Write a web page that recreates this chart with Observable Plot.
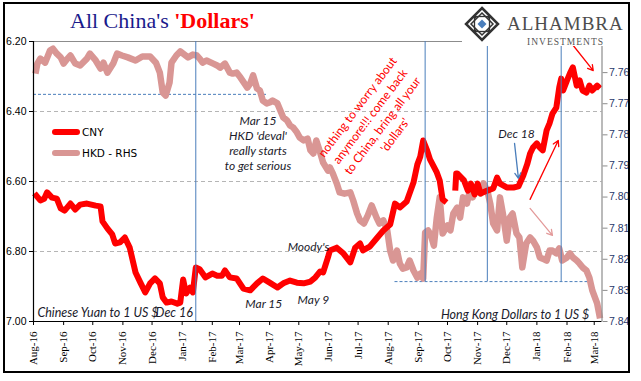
<!DOCTYPE html>
<html>
<head>
<meta charset="utf-8">
<script src="https://cdn.jsdelivr.net/npm/d3@7"></script>
<script src="https://cdn.jsdelivr.net/npm/@observablehq/plot@0.6"></script>
<style>
  html, body { margin: 0; padding: 0; background: #fff; }
  #wrap { position: relative; width: 641px; height: 381px; overflow: hidden; background: #fff; }
  #plot { position: absolute; left: 0; top: 0; }
  #overlay { position: absolute; left: 0; top: 0; pointer-events: none; }
  .leg { position: absolute; font-family: "DejaVu Sans", sans-serif; font-size: 10.5px; color: #000; display: flex; align-items: center; }
  .leg span.sw { display: inline-block; width: 28px; height: 6px; border-radius: 3px; margin-right: 2px; }
</style>
</head>
<body>
<div id="wrap">
  <div id="plot"></div>
  <div class="leg" style="left:52px; top:126px;"><span class="sw" style="background:#ff0000"></span>CNY</div>
  <div class="leg" style="left:52px; top:147px;"><span class="sw" style="background:#d99694"></span>HKD - RHS</div>
  <svg id="overlay" width="641" height="381">
    <rect x="462" y="4" width="166" height="42" fill="#fff"></rect>
    <g transform="translate(482,24)">
      <polygon points="0,-16 16,0 0,16 -16,0" fill="#fff" stroke="#333" stroke-width="2.5"></polygon>
      <polygon points="0,-11 11,0 0,11 -11,0" fill="none" stroke="#333" stroke-width="1.5"></polygon>
      <rect x="-7.5" y="-7.5" width="15" height="15" fill="none" stroke="#333" stroke-width="1.3"></rect>
      <polygon points="-8,-8 -4,-8 -8,-4" fill="#333"></polygon>
      <polygon points="8,-8 4,-8 8,-4" fill="#333"></polygon>
      <polygon points="-8,8 -4,8 -8,4" fill="#333"></polygon>
      <polygon points="8,8 4,8 8,4" fill="#333"></polygon>
      <polygon points="0,-4.5 4.5,0 0,4.5 -4.5,0" fill="#4a7ebb"></polygon>
    </g>
    <text x="507" y="30" font-family="Liberation Serif, serif" font-size="19" letter-spacing="1" fill="#4d4d4d">ALHAMBRA</text>
    <text x="527" y="45" font-family="Liberation Serif, serif" font-size="9.5" letter-spacing="1" fill="#555">INVESTMENTS</text>
    <text x="70" y="28" font-family="Liberation Serif, serif" font-size="22"><tspan fill="#1a1a8c">All China's </tspan><tspan fill="#ff0000" font-weight="bold">'Dollars'</tspan></text>
    <rect x="4" y="3" width="625" height="369" fill="none" stroke="#000" stroke-width="2"></rect>
  </svg>
</div>
<script>
// ---------- data ----------
const cnyDates = ["2016-08-02","2016-08-08","2016-08-12","2016-08-15","2016-08-20","2016-08-25","2016-08-29","2016-09-02","2016-09-08","2016-09-13","2016-09-18","2016-09-25","2016-10-04","2016-10-09","2016-10-11","2016-10-16","2016-10-21","2016-10-24","2016-10-29","2016-11-03","2016-11-08","2016-11-14","2016-11-19","2016-11-24","2016-11-29","2016-12-04","2016-12-09","2016-12-12","2016-12-16","2016-12-21","2016-12-27","2016-12-30","2017-01-02","2017-01-05","2017-01-09","2017-01-12","2017-01-15","2017-01-19","2017-01-25","2017-02-01","2017-02-06","2017-02-11","2017-02-14","2017-02-19","2017-02-26","2017-03-05","2017-03-12","2017-03-19","2017-03-25","2017-04-01","2017-04-09","2017-04-15","2017-04-22","2017-04-29","2017-05-06","2017-05-13","2017-05-18","2017-05-23","2017-05-26","2017-05-31","2017-06-02","2017-06-09","2017-06-16","2017-06-23","2017-06-28","2017-07-03","2017-07-06","2017-07-13","2017-07-20","2017-07-27","2017-08-03","2017-08-08","2017-08-13","2017-08-20","2017-08-27","2017-08-31","2017-09-03","2017-09-06","2017-09-10","2017-09-13","2017-09-20","2017-09-23","2017-09-26","2017-09-30","2017-10-04","2017-10-09","2017-10-10","2017-10-11","2017-10-18","2017-10-22","2017-10-25","2017-10-29","2017-11-01","2017-11-04","2017-11-11","2017-11-17","2017-11-21","2017-11-24","2017-12-01","2017-12-08","2017-12-13","2017-12-18","2017-12-22","2017-12-25","2017-12-28","2018-01-01","2018-01-04","2018-01-07","2018-01-11","2018-01-14","2018-01-17","2018-01-21","2018-01-24","2018-01-26","2018-01-28","2018-02-01","2018-02-04","2018-02-07","2018-02-11","2018-02-14","2018-02-17","2018-02-21","2018-02-24","2018-02-27","2018-03-04","2018-03-07"];
const cnyValues = [6.634,6.654,6.649,6.631,6.646,6.649,6.677,6.683,6.663,6.680,6.666,6.663,6.669,6.671,6.714,6.734,6.751,6.777,6.774,6.760,6.789,6.860,6.889,6.917,6.891,6.877,6.891,6.931,6.946,6.943,6.949,6.946,6.880,6.920,6.903,6.917,6.846,6.851,6.874,6.863,6.869,6.869,6.854,6.874,6.877,6.906,6.911,6.891,6.877,6.889,6.903,6.891,6.883,6.889,6.891,6.886,6.874,6.857,6.860,6.817,6.797,6.789,6.806,6.831,6.789,6.777,6.797,6.786,6.763,6.740,6.723,6.663,6.674,6.657,6.603,6.551,6.529,6.483,6.511,6.537,6.574,6.597,6.651,6.660,null,6.626,6.577,6.577,6.597,6.626,6.606,6.637,6.606,6.634,6.626,6.620,6.589,6.606,6.617,6.617,6.614,6.583,6.551,6.520,6.503,6.491,6.503,6.511,6.454,6.434,6.406,6.389,6.331,6.306,6.340,6.311,6.291,6.274,6.326,6.311,6.340,6.346,6.326,6.340,6.326,6.334];

const hkdDates = ["2016-08-03","2016-08-05","2016-08-08","2016-08-13","2016-08-18","2016-08-21","2016-08-25","2016-08-29","2016-09-01","2016-09-05","2016-09-08","2016-09-13","2016-09-18","2016-09-25","2016-09-28","2016-10-04","2016-10-09","2016-10-12","2016-10-16","2016-10-22","2016-10-26","2016-10-31","2016-11-06","2016-11-14","2016-11-21","2016-11-29","2016-12-05","2016-12-09","2016-12-12","2016-12-15","2016-12-19","2016-12-21","2016-12-26","2016-12-30","2017-01-07","2017-01-12","2017-01-16","2017-01-19","2017-01-22","2017-01-26","2017-02-02","2017-02-06","2017-02-09","2017-02-14","2017-02-19","2017-02-22","2017-02-26","2017-03-02","2017-03-09","2017-03-12","2017-03-15","2017-03-19","2017-03-22","2017-03-25","2017-03-29","2017-04-01","2017-04-04","2017-04-09","2017-04-12","2017-04-15","2017-04-19","2017-04-22","2017-04-25","2017-04-29","2017-05-02","2017-05-06","2017-05-10","2017-05-13","2017-05-16","2017-05-19","2017-05-23","2017-05-26","2017-05-31","2017-06-02","2017-06-05","2017-06-09","2017-06-12","2017-06-17","2017-06-23","2017-06-26","2017-06-30","2017-07-03","2017-07-07","2017-07-11","2017-07-15","2017-07-20","2017-07-23","2017-07-27","2017-07-31","2017-08-03","2017-08-06","2017-08-10","2017-08-13","2017-08-16","2017-08-20","2017-08-23","2017-08-27","2017-08-31","2017-09-03","2017-09-06","2017-09-08","2017-09-11","2017-09-14","2017-09-17","2017-09-20","2017-09-23","2017-09-26","2017-10-01","2017-10-04","2017-10-07","2017-10-11","2017-10-14","2017-10-17","2017-10-21","2017-10-24","2017-10-27","2017-10-31","2017-11-04","2017-11-07","2017-11-11","2017-11-14","2017-11-17","2017-11-21","2017-11-24","2017-11-27","2017-12-01","2017-12-04","2017-12-07","2017-12-11","2017-12-14","2017-12-17","2017-12-21","2017-12-25","2017-12-28","2018-01-01","2018-01-04","2018-01-07","2018-01-11","2018-01-14","2018-01-17","2018-01-21","2018-01-24","2018-01-27","2018-02-01","2018-02-04","2018-02-07","2018-02-11","2018-02-14","2018-02-17","2018-02-21","2018-02-24","2018-02-27","2018-03-04","2018-03-07"];
const hkdValues = [7.7603,7.7571,7.7555,7.7568,7.7529,7.7523,7.7539,7.7551,7.7571,7.7555,7.7545,7.7571,7.7577,7.7555,7.7539,7.7561,7.7587,7.7568,7.7600,7.7571,7.7539,7.7545,7.7551,7.7561,7.7548,7.7548,7.7568,7.7600,7.7664,7.7674,7.7632,7.7568,7.7545,7.7532,7.7551,7.7542,7.7545,7.7555,7.7568,7.7561,7.7571,7.7577,7.7584,7.7571,7.7600,7.7603,7.7600,7.7616,7.7648,7.7635,7.7609,7.7651,7.7658,7.7690,7.7699,7.7696,7.7690,7.7699,7.7722,7.7744,7.7754,7.7770,7.7776,7.7792,7.7809,7.7818,7.7812,7.7850,7.7860,7.7818,7.7857,7.7889,7.7915,7.7905,7.7924,7.7956,7.7985,7.7989,7.7985,7.8011,7.8053,7.8075,7.8085,7.8059,7.8027,7.8066,7.8085,7.8075,7.8107,7.8172,7.8204,7.8172,7.8214,7.8230,7.8226,7.8204,7.8236,7.8259,7.8246,7.8262,7.8114,7.8107,7.8124,7.8156,7.8066,7.8001,7.8117,7.8091,7.8107,7.8053,7.8034,7.8066,7.8001,7.8021,7.7979,7.8001,7.7969,7.7989,7.7956,7.7979,7.8021,7.8085,7.8107,7.8001,7.8053,7.8140,7.8066,7.8053,7.8117,7.8130,7.8226,7.8149,7.8130,7.8140,7.8162,7.8194,7.8198,7.8204,7.8172,7.8172,7.8181,7.8165,7.8204,7.8194,7.8181,7.8194,7.8204,7.8214,7.8226,7.8236,7.8259,7.8300,7.8342,7.8390];

const leftTicks = [6.20, 6.40, 6.60, 6.80, 7.00];
const gridTicks = [6.40, 6.60, 6.80];
const rightTicks = [7.76, 7.77, 7.78, 7.79, 7.80, 7.81, 7.82, 7.83, 7.84];
const monthTicks = ["2016-08-01","2016-09-01","2016-10-01","2016-11-01","2016-12-01","2017-01-01","2017-02-01","2017-03-01","2017-04-01","2017-05-01","2017-06-01","2017-07-01","2017-08-01","2017-09-01","2017-10-01","2017-11-01","2017-12-01","2018-01-01","2018-02-01","2018-03-01"];
const xDomain = ["2016-08-01", "2018-03-09"];
const leftDomain = [7.00, 6.20];
const rightDomain = [7.84, 7.75];

// event lines (dates) and reference levels (left-axis units)
const eventDates = ["2017-01-15", "2017-09-08", "2017-11-11", "2018-01-26"];
const eventBottoms = [7.00, 6.886, 6.886, 6.886];
const levelValues = [6.351, 6.886];
const levelStarts = ["2016-08-01", "2017-08-08"];
const levelEnds = ["2017-03-30", "2018-02-27"];

// annotations
const noteLabels = ["Mar 15\nHKD 'deval'\nreally starts\nto get serious", "Moody's", "Mar 15", "May 9", "Dec 18"];
const noteDates = ["2017-03-20", "2017-05-11", "2017-03-26", "2017-05-16", "2017-12-11"];
const noteValues = [6.490, 6.786, 6.949, 6.937, 6.463];
const cornerLabels = ["Chinese Yuan to 1 US $", "Dec 16", "Hong Kong Dollars to 1 US $"];
const cornerDates = ["2016-08-05", "2017-01-12", "2018-02-24"];
const cornerValues = [6.977, 6.977, 6.980];
const cornerAnchors = ["start", "end", "end"];
const calloutText = "nothing to worry about\nanymore!!! come back\nto China, bring all your\n'dollars'";
const calloutDate = "2017-07-19";
const calloutValue = 6.426;

// arrows
const arrowStartDates = ["2017-12-09", "2017-12-25", "2017-12-25", "2018-02-07"];
const arrowStartValues = [6.491, 6.651, 6.677, 6.210];
const arrowEndDates = ["2017-12-13", "2018-01-23", "2018-01-17", "2018-02-28"];
const arrowEndValues = [6.591, 6.483, 6.754, 6.283];
const arrowColors = ["#4a7ebb", "#ff0000", "#e39a9a", "#ff0000"];

if (cnyDates.length !== cnyValues.length) throw new Error("cny length " + cnyDates.length + " vs " + cnyValues.length);
if (hkdDates.length !== hkdValues.length) throw new Error("hkd length " + hkdDates.length + " vs " + hkdValues.length);

// ---------- build ----------
const D = s => new Date(s + "T00:00:00Z");
const toLeft = v => leftDomain[1] + (v - rightDomain[1]) / (rightDomain[0] - rightDomain[1]) * (leftDomain[0] - leftDomain[1]);
const fromLeft = v => rightDomain[1] + (v - leftDomain[1]) / (leftDomain[0] - leftDomain[1]) * (rightDomain[0] - rightDomain[1]);

const cny = cnyDates.map((d, i) => ({date: D(d), value: cnyValues[i]}));
const hkd = hkdDates.map((d, i) => ({date: D(d), value: toLeft(hkdValues[i])}));
const events = eventDates.map((d, i) => ({date: D(d), top: leftDomain[1], bottom: eventBottoms[i]}));
const levels = levelValues.map((v, i) => ({value: v, start: D(levelStarts[i]), end: D(levelEnds[i])}));
const notes = noteLabels.map((t, i) => ({text: t, date: D(noteDates[i]), value: noteValues[i]}));
const corners = cornerLabels.map((t, i) => ({text: t, date: D(cornerDates[i]), value: cornerValues[i], anchor: cornerAnchors[i]}));
const arrows = arrowStartDates.map((d, i) => ({x1: D(d), y1: arrowStartValues[i], x2: D(arrowEndDates[i]), y2: arrowEndValues[i], color: arrowColors[i]}));

const italic = {fontFamily: "Lato, 'Open Sans', sans-serif", fontStyle: "italic", fontSize: 12, fill: "#1b1b2b"};

const chart = Plot.plot({
  width: 641,
  height: 381,
  marginLeft: 33,
  marginRight: 39.5,
  marginTop: 41,
  marginBottom: 60,
  style: {background: "transparent", fontFamily: "Liberation Sans, sans-serif", fontSize: "10.5px", overflow: "visible"},
  x: {type: "utc", domain: xDomain.map(D)},
  y: {domain: leftDomain},
  marks: [
    Plot.ruleY(gridTicks, {stroke: "#b5b5b5", strokeDasharray: "4,3", strokeWidth: 1}),
    Plot.ruleY([leftDomain[1]], {stroke: "#8c8c8c", strokeWidth: 1.2}),
    Plot.ruleY(levels, {y: "value", x1: "start", x2: "end", stroke: "#4a7ebb", strokeDasharray: "3,2", strokeWidth: 1}),
    Plot.line(hkd, {x: "date", y: "value", stroke: "#d99694", strokeWidth: 6.5, strokeLinejoin: "round", strokeLinecap: "butt"}),
    Plot.line(cny, {x: "date", y: "value", stroke: "#ff0000", strokeWidth: 6, strokeLinejoin: "round", strokeLinecap: "butt"}),
    Plot.ruleX(events, {x: "date", y1: "top", y2: "bottom", stroke: "#4a7ebb", strokeWidth: 1}),
    Plot.arrow(arrows, {x1: "x1", y1: "y1", x2: "x2", y2: "y2", stroke: "color", strokeWidth: 1.3, headLength: 7}),
    Plot.text(notes, {x: "date", y: "value", text: "text", lineHeight: 1.25, textAnchor: "middle", ...italic}),
    Plot.text(corners.filter(d => d.anchor === "start"), {x: "date", y: "value", text: "text", textAnchor: "start", ...italic, fontSize: 12.5}),
    Plot.text(corners.filter(d => d.anchor === "end"), {x: "date", y: "value", text: "text", textAnchor: "end", ...italic, fontSize: 12.5}),
    Plot.text([{date: D(calloutDate), value: calloutValue, text: calloutText}], {x: "date", y: "value", text: "text", rotate: -53, lineHeight: 1.3, textAnchor: "middle", fontFamily: "Lato, 'Open Sans', sans-serif", fontSize: 12, fill: "#ff0000"}),
    Plot.axisY({anchor: "left", ticks: leftTicks, tickFormat: d => d.toFixed(2), tickSize: 4, tickPadding: 3, label: null, fill: "#000", fontSize: 10.5}),
    Plot.axisY({anchor: "right", ticks: rightTicks.map(toLeft), tickFormat: d => fromLeft(d).toFixed(2), tickSize: 5, tickPadding: 2, label: null, fill: "#27376a", stroke: "#8c8c8c", fontSize: 10.5}),
    Plot.axisX({ticks: monthTicks.map(D), tickFormat: d3.utcFormat("%b-%y"), tickRotate: -90, tickSize: 4, tickPadding: 6, label: null, fontFamily: "Liberation Serif, serif", fontSize: 11, fill: "#000"}),
    Plot.ruleX([D(xDomain[0])], {stroke: "#000", strokeWidth: 1.2}),
    Plot.ruleX([D(xDomain[1])], {stroke: "#8c8c8c", strokeWidth: 1.2}),
    Plot.ruleY([leftDomain[0]], {stroke: "#000", strokeWidth: 1.2})
  ]
});
document.getElementById("plot").appendChild(chart);
</script>
</body>
</html>
